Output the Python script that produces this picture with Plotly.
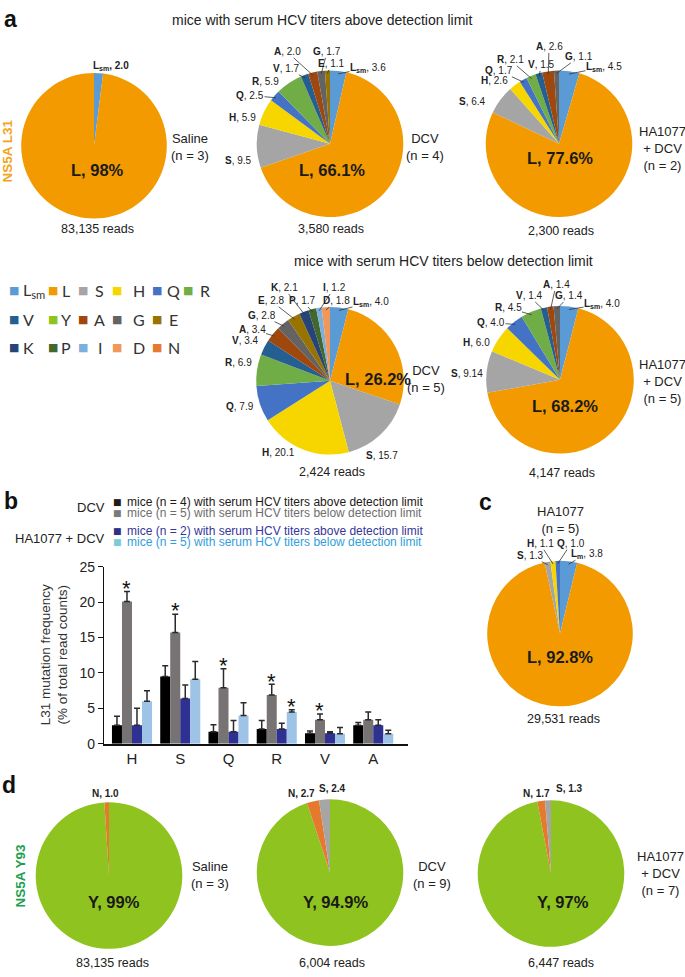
import math
import plotly.graph_objects as go

W, H = 685, 977
FONT = "Liberation Sans, Arial, sans-serif"

# ---------------- data ----------------
COLORS = {"Lsm": "#5b9bd5", "L": "#f29a00", "S": "#a5a5a5", "H": "#f7d600", "Q": "#4472c4",
          "R": "#70ad47", "V": "#255e91", "Y": "#8fc31f", "A": "#9e480e", "G": "#636363",
          "E": "#997300", "K": "#264478", "P": "#43682b", "I": "#7cafdd", "D": "#f1975a",
          "N": "#e57a2e"}

a1_labels = ["Lsm", "L"]
a1_values = [2.0, 98.0]
a2_labels = ["Lsm", "L", "S", "H", "Q", "R", "V", "A", "G", "E"]
a2_values = [3.6, 66.1, 9.5, 5.9, 2.5, 5.9, 1.7, 2.0, 1.7, 1.1]
a3_labels = ["Lsm", "L", "S", "H", "Q", "R", "V", "A", "G"]
a3_values = [4.5, 77.6, 6.4, 2.6, 1.7, 2.1, 1.5, 2.6, 1.1]
a4_labels = ["Lsm", "L", "S", "H", "Q", "R", "V", "A", "G", "E", "K", "P", "I", "D"]
a4_values = [4.0, 26.2, 15.7, 20.1, 7.9, 6.9, 3.4, 3.4, 2.8, 2.8, 2.1, 1.7, 1.2, 1.8]
a5_labels = ["Lsm", "L", "S", "H", "Q", "R", "V", "A", "G"]
a5_values = [4.0, 68.2, 9.14, 6.0, 4.0, 4.5, 1.4, 1.4, 1.4]
c_labels = ["Lsm", "L", "S", "H", "Q"]
c_values = [3.8, 92.8, 1.3, 1.1, 1.0]
d1_labels = ["Y", "N"]
d1_values = [99.0, 1.0]
d2_labels = ["Y", "N", "S"]
d2_values = [94.9, 2.7, 2.4]
d3_labels = ["Y", "N", "S"]
d3_values = [97.0, 1.7, 1.3]

reads = {"a1": "83,135", "a2": "3,580", "a3": "2,300", "a4": "2,424", "a5": "4,147",
         "c": "29,531", "d1": "83,135", "d2": "6,004", "d3": "6,447"}
groups = {"a1": "Saline<br>(n = 3)", "a2": "DCV<br>(n = 4)", "a3": "HA1077<br>+ DCV<br>(n = 2)",
          "a4": "DCV<br>(n = 5)", "a5": "HA1077<br>+ DCV<br>(n = 5)", "c": "HA1077<br>(n = 5)",
          "d1": "Saline<br>(n = 3)", "d2": "DCV<br>(n = 9)", "d3": "HA1077<br>+ DCV<br>(n = 7)"}

bar_categories = ["H", "S", "Q", "R", "V", "A"]
dcv_above = [2.6, 9.5, 1.7, 2.1, 1.5, 2.6]
dcv_above_err = [1.3, 1.5, 1.0, 1.2, 0.3, 0.4]
dcv_below = [20.1, 15.7, 7.9, 6.9, 3.4, 3.4]
dcv_below_err = [1.4, 2.6, 2.7, 1.5, 0.8, 1.1]
ha_above = [2.6, 6.4, 1.7, 2.1, 1.5, 2.6]
ha_above_err = [2.4, 1.9, 1.6, 0.8, 0.2, 0.8]
ha_below = [6.0, 9.1, 4.0, 4.5, 1.4, 1.4]
ha_below_err = [1.5, 2.5, 1.8, 0.3, 0.9, 0.5]
dcv_below_sig = [True, True, True, True, True, False]
ha_below_sig = [False, False, False, True, False, False]

# ---------------- layout helpers ----------------
fig = go.Figure()
ann = []


def text(x, y, s, size=13, color="#222222", xanchor="center", yanchor="middle", angle=0,
         family=FONT):
    ann.append(dict(x=x / W, y=1 - y / H, xref="paper", yref="paper", text=s, showarrow=False,
                    xanchor=xanchor, yanchor=yanchor, textangle=angle,
                    font=dict(size=size, color=color, family=family)))


def fmt(v):
    return f"{v:.1f}" if abs(round(v, 1) - v) < 1e-9 else f"{v:.2f}"


def disp(name, lsub="sm"):
    return f"L<sub>{lsub}</sub>" if name == "Lsm" else name


def add_pie(key, labels, values, cx, cy, d, main, main_pos, lab_pos, group_pos, reads_pos,
            all_bold=False, lsub="sm"):
    fig.add_trace(go.Pie(
        labels=labels, values=values, sort=False, direction="clockwise", rotation=0,
        textinfo="none", hoverinfo="label+value", showlegend=False,
        marker=dict(colors=[COLORS[l] for l in labels], line=dict(width=0)),
        domain=dict(x=[(cx - d / 2) / W, (cx + d / 2) / W],
                    y=[1 - (cy + d / 2) / H, 1 - (cy - d / 2) / H])))
    total = sum(values)
    mv = values[labels.index(main)]
    text(main_pos[0], main_pos[1], f"<b>{main}, {mv:g}%</b>", size=16.5, color="#1a1a1a")
    cum = 0.0
    for l, v in zip(labels, values):
        th = 2 * math.pi * (cum + v / 2) / total
        cum += v
        if l not in lab_pos:
            continue
        lx, ly, leader = lab_pos[l]
        if all_bold:
            s = f"<b>{disp(l, lsub)}, {fmt(v)}</b>"
        else:
            s = f"<b>{disp(l, lsub)}</b>, {fmt(v)}"
        if leader:
            r = d / 2 * 0.96
            rx, ry = cx + r * math.sin(th), cy - r * math.cos(th)
            ann.append(dict(x=rx / W, y=1 - ry / H, xref="paper", yref="paper", text=s,
                            showarrow=True, arrowhead=0, arrowwidth=0.8, arrowcolor="#333333",
                            ax=lx - rx, ay=ly - ry, axref="pixel", ayref="pixel", standoff=0,
                            borderpad=0,
                            font=dict(size=10, color="#222222", family=FONT)))
        else:
            text(lx, ly, s, size=10)
    text(group_pos[0], group_pos[1], groups[key], size=13)
    text(reads_pos[0], reads_pos[1], f"{reads[key]} reads", size=12.5)


# ---------------- panel a ----------------
text(2, 11, "<b>a</b>", size=23, color="#111111", xanchor="left")
text(322, 12, "mice with serum HCV titers above detection limit", size=14)
text(443, 257, "mice with serum HCV titers below detection limit", size=14)
text(8, 146, "<b>NS5A L31</b>", size=13.5, color="#f5a31a", angle=-90)

add_pie("a1", a1_labels, a1_values, 94, 140, 148, "L", (98, 165),
        {"Lsm": (111, 59, False)}, (190, 141), (98, 225), all_bold=True)
add_pie("a2", a2_labels, a2_values, 330, 138, 149, "L", (332, 165),
        {"A": (287, 45, True), "G": (327, 45, True), "V": (286, 62, True), "E": (331, 57, True),
         "Lsm": (368, 61, True), "R": (265, 75, False), "Q": (250, 89, True),
         "H": (242, 111, False), "S": (239, 155, False)},
        (425, 141), (331, 225))
add_pie("a3", a3_labels, a3_values, 559, 138, 149, "L", (560, 152),
        {"A": (549, 40, True), "R": (510, 53, True), "V": (541, 58, True), "G": (579, 50, True),
         "Lsm": (604, 60, True), "Q": (499, 64, True), "H": (494, 74, False),
         "S": (472, 95, False)},
        (662, 143), (561, 227))
add_pie("a4", a4_labels, a4_values, 330, 379, 150, "L", (378, 377),
        {"K": (284, 285, True), "I": (334, 285, True), "E": (271, 298, True),
         "P": (302, 298, True), "D": (336, 298, True), "Lsm": (371, 299, True),
         "G": (262, 313, True), "A": (252, 327, True), "V": (245, 338, False),
         "R": (238, 360, False), "Q": (240, 405, False), "H": (278, 452, False),
         "S": (382, 455, False)},
        (426, 377), (332, 472))
add_pie("a5", a5_labels, a5_values, 560, 378, 150, "L", (565, 405),
        {"A": (556, 282, True), "V": (529, 293, True), "G": (569, 293, True),
         "Lsm": (602, 301, True), "R": (508, 305, True), "Q": (491, 320, True),
         "H": (476, 340, False), "S": (467, 372, False)},
        (662, 380), (562, 473))

# legend of residues
legend_rows = [["Lsm", "L", "S", "H", "Q", "R"], ["V", "Y", "A", "G", "E"],
               ["K", "P", "I", "D", "N"]]
sq_x = [14, 53, 83, 117, 157, 188]
let_x = [28, 66, 100, 139, 174, 205]
row_y = [287, 317, 345]
for ri, row in enumerate(legend_rows):
    for ci, name in enumerate(row):
        text(sq_x[ci], row_y[ri], "■", size=11, color=COLORS[name], family="DejaVu Sans")
        if name == "Lsm":
            text(21, row_y[ri], "L<sub>sm</sub>", size=16, color="#333333", xanchor="left",
                 family="Lato, Open Sans, sans-serif")
        else:
            text(let_x[ci], row_y[ri], name, size=16, color="#333333",
                 family="Lato, Open Sans, sans-serif")

# ---------------- panel b ----------------
text(2, 501, "<b>b</b>", size=23, color="#111111", xanchor="left")
leg_items = [
    (502, "#231815", "#231815", "mice (n = 4) with serum HCV titers above detection limit"),
    (513, "#7a7a7a", "#6e6e6e", "mice (n = 5) with serum HCV titers below detection limit"),
    (532, "#2e2f86", "#35359a", "mice (n = 2) with serum HCV titers above detection limit"),
    (543, "#7ccbd8", "#30a0dc", "mice (n = 5) with serum HCV titers below detection limit"),
]
for y, sc, tc, s in leg_items:
    text(117, y, f"<span style='color:{sc}'>■</span>", size=9, xanchor="center",
         family="DejaVu Sans")
    text(125, y, s, size=12, color=tc, xanchor="left")
text(107, 508, "DCV", size=13, xanchor="right")
text(107, 539, "HA1077 + DCV", size=13, xanchor="right")

X0, X1, YB, YT = 104, 408, 748, 568
XR = [-0.58, 5.72]
BARGAP = 0.17
series = [
    ("DCV, above", dcv_above, dcv_above_err, "#000000"),
    ("DCV, below", dcv_below, dcv_below_err, "#777373"),
    ("HA1077 + DCV, above", ha_above, ha_above_err, "#2e3192"),
    ("HA1077 + DCV, below", ha_below, ha_below_err, "#9dc3e6"),
]
for name, vals, errs, col in series:
    fig.add_trace(go.Bar(
        x=bar_categories, y=vals, name=name, marker=dict(color=col, line=dict(width=0)),
        error_y=dict(type="data", array=errs, arrayminus=[0] * len(errs), symmetric=False,
                     color="#2a2a2a", thickness=1.5, width=3),
        showlegend=False, xaxis="x", yaxis="y"))

slot_px = (X1 - X0) / (XR[1] - XR[0])
bar_px = slot_px * (1 - BARGAP) / 4
for si, sig in ((1, dcv_below_sig), (3, ha_below_sig)):
    vals, errs = series[si][1], series[si][2]
    for i, flag in enumerate(sig):
        if flag:
            ann.append(dict(x=bar_categories[i], y=vals[i] + errs[i] + 0.45, xref="x", yref="y",
                            text="*", showarrow=False, xanchor="center", yanchor="middle",
                            xshift=(si - 1.5) * bar_px,
                            font=dict(size=22, color="#111111", family=FONT)))

text(54, 658, "L31 mutation frequency<br>(% of total read counts)", size=13.5,
     color="#333333", angle=-90)

# ---------------- panel c ----------------
text(477, 502, "<b>c</b>", size=23, color="#111111", xanchor="left")
add_pie("c", c_labels, c_values, 560, 636, 148, "L", (560, 660),
        {"S": (530, 557, True), "H": (540, 545, True), "Q": (571, 545, True),
         "Lsm": (587, 555, True)},
        (560, 521), (563, 723), lsub="m")

# ---------------- panel d ----------------
text(0, 790, "<b>d</b>", size=23, color="#111111", xanchor="left")
text(21, 882, "<b>NS5A Y93</b>", size=13.5, color="#1fa050", angle=-90)
add_pie("d1", d1_labels, d1_values, 109, 882, 149, "Y", (114, 909),
        {"N": (105, 799, False)}, (210, 881), (113, 971), all_bold=True)
add_pie("d2", d2_labels, d2_values, 330, 879, 149, "Y", (335, 909),
        {"N": (301, 799, False), "S": (332, 793, False)}, (432, 881), (332, 971),
        all_bold=True)
add_pie("d3", d3_labels, d3_values, 551, 880, 149, "Y", (563, 909),
        {"N": (536, 799, False), "S": (569, 793, False)}, (660, 880), (561, 971),
        all_bold=True)

fig.update_layout(
    width=W, height=H, margin=dict(l=0, r=0, t=0, b=0),
    paper_bgcolor="white", plot_bgcolor="white",
    font=dict(family=FONT, color="#222222"),
    barmode="group", bargap=BARGAP, bargroupgap=0,
    xaxis=dict(domain=[X0 / W, X1 / W], anchor="y", range=XR, showline=True,
               linecolor="#111111", linewidth=1.5, ticks="", showgrid=False, zeroline=False,
               tickfont=dict(size=15, color="#222222"), fixedrange=True),
    yaxis=dict(domain=[1 - YB / H, 1 - YT / H], anchor="x", range=[0, 25], dtick=5,
               showline=True, linecolor="#111111", linewidth=1.2, ticks="outside", ticklen=5,
               tickwidth=1.2, tickcolor="#111111", showgrid=False, zeroline=False,
               tickfont=dict(size=14, color="#222222"), fixedrange=True),
    annotations=ann,
)

fig.write_html("out.html", config={"displayModeBar": False},
               post_script="document.body.style.margin='0';document.body.style.overflow='hidden';")
